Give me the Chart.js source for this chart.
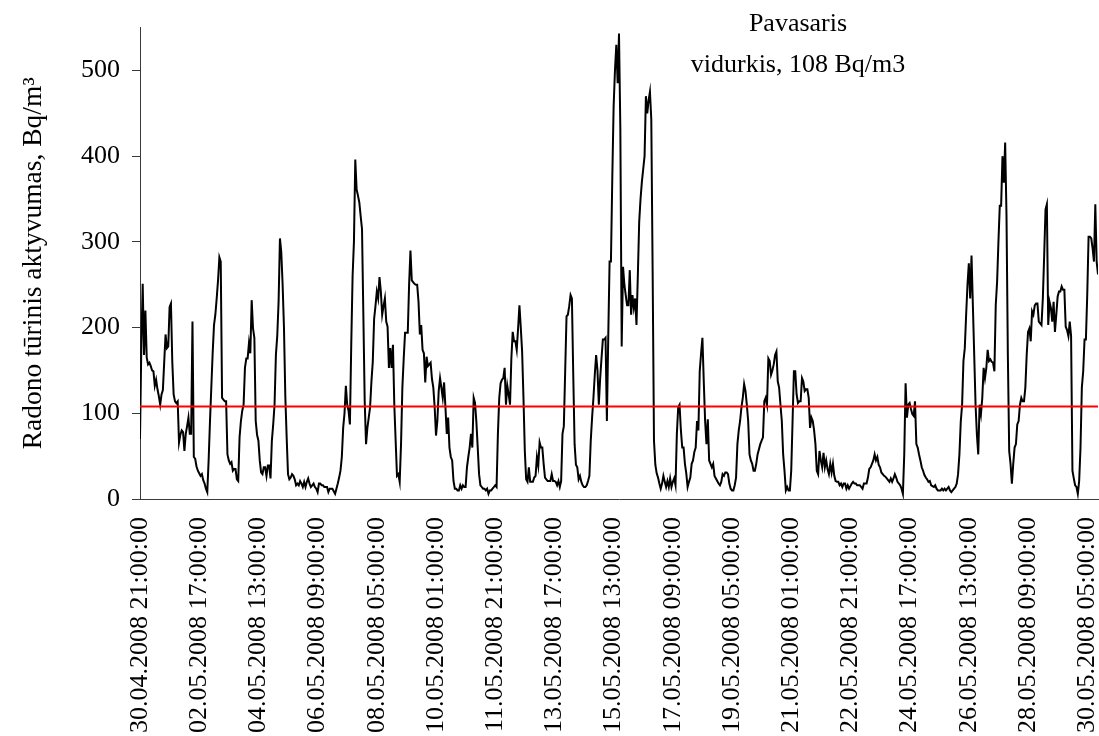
<!DOCTYPE html>
<html lang="lt">
<head>
<meta charset="utf-8">
<title>Pavasaris – radono tūrinis aktyvumas</title>
<script src="https://cdn.jsdelivr.net/npm/chart.js@4/dist/chart.umd.min.js"></script>
<style>
  html, body { margin: 0; padding: 0; background: #ffffff; }
  #wrap { position: relative; width: 1099px; height: 736px; }
</style>
</head>
<body>
<div id="wrap"><canvas id="chart"></canvas></div>
<script>
// Hourly radon activity concentration, Bq/m3, starting 30.04.2008 21:00
const radonValues = [
  70,180,251,168,220,165,157,159,155,150,
  149,132,139,128,120,110,122,127,160,192,
  176,178,224,228,160,122,114,112,114,66,
  75,80,78,56,76,85,95,76,76,207,
  49,47,38,33,30,27,29,22,18,12,8,
  45,90,130,170,203,215,234,255,282,277,
  118,116,114,114,52,45,41,43,33,35,
  35,23,21,72,91,103,110,153,164,164,
  182,170,232,199,188,91,75,68,45,31,
  29,37,37,27,39,39,24,68,87,110,
  168,190,230,304,288,250,200,120,72,29,
  23,25,29,27,23,16,18,16,21,18,
  14,20,14,20,24,18,14,16,18,14,12,
  8,18,18,16,16,14,14,14,8,12,
  12,12,9,6,12,18,25,33,49,83,
  100,132,110,103,87,180,260,300,396,361,
  354,346,330,315,215,114,64,83,95,107,
  137,160,210,225,242,234,259,242,215,225,
  234,207,201,153,176,153,180,110,68,27,
  29,20,64,130,164,194,194,194,250,290,
  255,253,251,250,250,230,192,203,174,170,
  136,166,155,157,159,140,130,107,74,91,126,
  141,130,118,136,107,76,95,60,49,45,
  21,12,12,10,10,16,12,16,14,14,
  37,49,60,76,60,118,112,90,60,29,
  16,14,12,12,10,12,6,10,10,12,
  14,16,14,76,118,135,139,141,153,110,
  132,122,110,164,195,184,184,174,199,226,
  200,172,118,56,23,20,37,20,20,20,
  25,27,49,39,66,60,60,41,25,23,
  21,21,21,29,21,21,20,16,21,14,21,
  76,85,149,213,215,225,238,234,145,64,
  40,37,23,27,20,16,14,14,16,21,
  27,68,95,118,145,168,150,110,141,164,
  186,186,188,91,188,277,277,373,458,500,
  530,485,543,431,178,271,250,238,226,226,
  267,215,238,223,234,203,261,323,350,370,
  385,400,470,450,465,475,443,265,68,40,
  30,25,18,12,18,27,20,14,21,14,24,
  14,20,24,16,76,107,110,80,60,60,
  41,30,14,20,25,41,45,55,60,91,
  80,149,170,188,137,91,64,93,45,41,
  37,41,27,24,21,18,16,20,29,27,
  31,31,29,18,12,10,10,16,25,64,
  80,91,107,118,134,126,110,91,52,45,
  41,33,33,41,52,58,64,68,72,114,
  118,110,164,161,145,150,157,168,172,137,130,
  110,91,52,33,10,14,10,10,33,91,
  149,149,122,112,114,114,141,137,126,128,
  128,118,83,95,91,80,64,33,29,56,
  45,37,54,37,45,35,29,41,31,41,
  27,21,20,20,16,18,14,18,18,12,
  16,12,15,18,20,18,18,16,16,16,
  14,12,18,18,18,25,35,37,41,45,
  52,45,49,40,37,31,29,27,26,24,22,
  20,24,20,24,29,25,20,18,16,12,
  6,52,135,95,110,112,105,99,97,114,
  64,60,52,45,37,33,28,25,23,20,
  21,16,15,14,16,12,10,10,10,12,
  10,12,10,12,14,10,8,10,12,14,
  18,29,52,90,110,161,176,215,250,275,
  234,284,226,168,110,75,52,110,99,118,
  153,141,153,174,161,163,160,159,149,226,253,
  300,342,342,400,369,416,330,168,56,41,
  18,41,60,64,87,91,110,118,114,114,
  130,168,195,199,184,219,215,226,228,228,
  207,205,203,234,284,338,344,203,230,223,
  207,230,195,215,236,242,242,248,244,244,
  201,197,190,207,190,33,24,16,14,6,
  21,60,130,149,186,186,238,306,306,304,
  292,277,344,277,262
];

// Date labels printed every 44 hours along the time axis
const tickLabels = [
  '30.04.2008 21:00:00', '02.05.2008 17:00:00', '04.05.2008 13:00:00',
  '06.05.2008 09:00:00', '08.05.2008 05:00:00', '10.05.2008 01:00:00',
  '11.05.2008 21:00:00', '13.05.2008 17:00:00', '15.05.2008 13:00:00',
  '17.05.2008 09:00:00', '19.05.2008 05:00:00', '21.05.2008 01:00:00',
  '22.05.2008 21:00:00', '24.05.2008 17:00:00', '26.05.2008 13:00:00',
  '28.05.2008 09:00:00', '30.05.2008 05:00:00'
];
const tickStepHours = 44;

// Seasonal mean shown as a horizontal reference line
const seasonAverage = 108;

const captionLines = ['Pavasaris', 'vidurkis, 108 Bq/m3'];
const yAxisTitle = 'Radono tūrinis aktyvumas, Bq/m³';

const serif = '"Liberation Serif", "Times New Roman", serif';
const textSize = 26;
const axisColor = '#3a3a3a';

// Two-line caption placed inside the plot, upper right
const captionPlugin = {
  id: 'seasonCaption',
  afterDraw(chart) {
    const ctx = chart.ctx;
    ctx.save();
    ctx.font = textSize + 'px ' + serif;
    ctx.fillStyle = '#000000';
    ctx.textAlign = 'center';
    ctx.textBaseline = 'alphabetic';
    const centerX = 798;
    const baselines = [31, 72];
    captionLines.forEach((line, i) => ctx.fillText(line, centerX, baselines[i]));
    ctx.restore();
  }
};

Chart.defaults.font.family = serif;
Chart.defaults.font.size = textSize;
Chart.defaults.color = '#000000';

const lastHour = radonValues.length - 1;

new Chart(document.getElementById('chart'), {
  type: 'line',
  data: {
    datasets: [
      {
        label: 'vidurkis',
        data: [{ x: 0, y: seasonAverage }, { x: lastHour, y: seasonAverage }],
        borderColor: '#ff0000',
        borderWidth: 2,
        pointRadius: 0,
        order: 0
      },
      {
        label: 'Radono tūrinis aktyvumas',
        data: radonValues.map((v, i) => ({ x: i, y: v })),
        borderColor: '#000000',
        borderWidth: 2,
        pointRadius: 0,
        tension: 0,
        order: 1
      }
    ]
  },
  options: {
    responsive: true,
    maintainAspectRatio: false,
    animation: false,
    devicePixelRatio: 1,
    layout: { padding: { top: 25, right: 1, bottom: 0, left: 0 } },
    plugins: {
      legend: { display: false },
      tooltip: { enabled: false },
      title: { display: false }
    },
    scales: {
      x: {
        type: 'linear',
        min: 0,
        max: lastHour,
        grid: { display: false, drawTicks: false },
        border: { display: true, color: axisColor, width: 1 },
        ticks: {
          stepSize: tickStepHours,
          includeBounds: false,
          autoSkip: false,
          minRotation: 90,
          maxRotation: 90,
          padding: 18,
          color: '#000000',
          font: { size: textSize },
          callback: (value) => {
            const k = Math.round(value / tickStepHours);
            return tickLabels[k] !== undefined ? tickLabels[k] : '';
          }
        },
        afterFit: (scale) => {
          scale.height = 237;
          scale.paddingLeft = 0;
          scale.paddingRight = 0;
        }
      },
      y: {
        min: 0,
        max: 550,
        grid: { drawOnChartArea: false, drawTicks: true, tickLength: 8, color: axisColor },
        border: { display: true, color: axisColor, width: 1 },
        ticks: {
          stepSize: 100,
          includeBounds: false,
          padding: 12,
          color: '#000000',
          font: { size: textSize }
        },
        title: {
          display: true,
          text: yAxisTitle,
          color: '#000000',
          font: { size: 27.5 },
          padding: { top: 17, bottom: 0 }
        },
        afterFit: (scale) => {
          scale.width = 140;
        }
      }
    }
  },
  plugins: [captionPlugin]
});
</script>
</body>
</html>
